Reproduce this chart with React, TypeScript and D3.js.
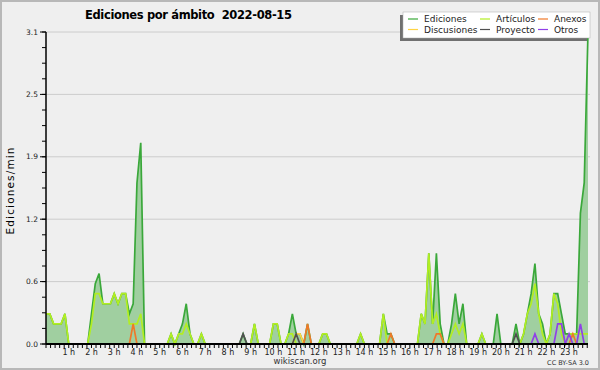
import { useEffect, useRef } from 'react';
import * as d3 from 'd3';

// ediciones por franja de 10 minutos (144 franjas, 00:00 .. 23:50); /10 => ediciones/min
const ediciones = [
  3, 3, 2, 2, 2, 3, 0, 0, 0, 0, 0, 0,
  3, 6, 7, 4, 4, 4, 5, 4, 5, 5, 3, 4,
  16, 20, 0, 0, 0, 0, 0, 0, 0, 1, 0, 1,
  2, 4, 1, 0, 0, 1, 0, 0, 0, 0, 0, 0,
  0, 0, 0, 0, 1, 0, 0, 2, 0, 0, 0, 0,
  2, 2, 0, 0, 1, 3, 1, 1, 0, 2, 0, 0,
  0, 1, 1, 0, 0, 0, 0, 0, 0, 0, 0, 1,
  0, 0, 0, 0, 0, 3, 1, 1, 0, 0, 0, 0,
  0, 0, 0, 3, 2, 9, 2, 9, 2, 0, 0, 2,
  5, 2, 4, 0, 0, 0, 0, 1, 0, 0, 0, 3,
  0, 0, 0, 0, 2, 0, 1, 3, 5, 8, 3, 2,
  0, 1, 5, 5, 3, 1, 1, 1, 1, 13, 16, 31,
];

const articulos = [
  3, 3, 2, 2, 2, 3, 0, 0, 0, 0, 0, 0,
  2, 5, 5, 4, 4, 4, 5, 4, 5, 5, 2, 2,
  2, 3, 0, 0, 0, 0, 0, 0, 0, 1, 0, 1,
  1, 2, 1, 0, 0, 1, 0, 0, 0, 0, 0, 0,
  0, 0, 0, 0, 0, 0, 0, 2, 0, 0, 0, 0,
  2, 2, 0, 0, 1, 1, 0, 0, 0, 0, 0, 0,
  0, 1, 1, 0, 0, 0, 0, 0, 0, 0, 0, 1,
  0, 0, 0, 0, 0, 3, 0, 0, 0, 0, 0, 0,
  0, 0, 0, 3, 2, 9, 2, 3, 1, 0, 0, 1,
  2, 1, 2, 0, 0, 0, 0, 1, 0, 0, 0, 0,
  0, 0, 0, 0, 0, 0, 1, 3, 4, 6, 3, 1,
  0, 1, 5, 4, 1, 0, 1, 1, 1, 1, 1, 1,
];

// series casi vacías: [franja, valor]
const anexos: [number, number][] = [[23, 2], [69, 2], [91, 1], [103, 1], [104, 1], [139, 1]];
const discusiones: [number, number][] = [[66, 1], [67, 1]];
const proyecto: [number, number][] = [[52, 1], [66, 1], [124, 1]];
const otros: [number, number][] = [[129, 1], [135, 2], [136, 2], [138, 1], [141, 2]];

const hourLabels = [
  '1 h', '2 h', '3 h', '4 h', '5 h', '6 h', '7 h', '8 h', '9 h', '10 h', '11 h', '12 h',
  '13 h', '14 h', '15 h', '16 h', '17 h', '18 h', '19 h', '20 h', '21 h', '22 h', '23 h',
];

const legendNames = ['Ediciones', 'Artículos', 'Anexos', 'Discusiones', 'Proyecto', 'Otros'];
const legendColors = ['#3aa83a', '#b2ee22', '#f07828', '#ffd444', '#505050', '#9040e8'];

const N = 144;
const yMax = 3.1;

const fromPeaks = (peaks: [number, number][]) => {
  const s = new Array(N).fill(0);
  peaks.forEach(([i, v]) => { s[i] = v; });
  return s as number[];
};

const App = () => {
  const ref = useRef<SVGSVGElement>(null);

  useEffect(() => {
    if (!ref.current) return;
    const svg = d3.select(ref.current);
    svg.selectAll('*').remove();

    const width = 600;
    const height = 370;
    const left = 46, right = 588, top = 32, bottom = 344;

    const x = d3.scaleLinear().domain([0, N - 1]).range([left, right]);
    const y = d3.scaleLinear().domain([0, yMax]).range([bottom, top]);

    svg.append('rect').attr('width', width).attr('height', height).attr('fill', '#efefef');
    svg.append('rect')
      .attr('x', 1).attr('y', 1).attr('width', width - 2).attr('height', height - 2)
      .attr('fill', 'none').attr('stroke', '#b8b8b8').attr('stroke-width', 2);

    // grid
    const major = d3.range(6).map(k => (yMax * k) / 5);
    const minor = d3.range(21).map(k => (yMax * k) / 20);
    svg.append('g').selectAll('line')
      .data(major.slice(1))
      .join('line')
      .attr('x1', left).attr('x2', right + 2)
      .attr('y1', d => y(d)).attr('y2', d => y(d))
      .attr('stroke', '#cccccc').attr('stroke-width', 1);

    const series = [
      ediciones,
      articulos,
      fromPeaks(anexos),
      fromPeaks(discusiones),
      fromPeaks(proyecto),
      fromPeaks(otros),
    ];

    const area = d3.area<number>()
      .x((_, i) => x(i))
      .y0(y(0))
      .y1(d => y(d / 10));
    const line = d3.line<number>()
      .x((_, i) => x(i))
      .y(d => y(d / 10));

    svg.append('path')
      .attr('d', area(ediciones))
      .attr('fill', '#a0cfa0');

    const drawOrder = [0, 1, 3, 2, 4, 5];
    drawOrder.forEach(k => {
      svg.append('path')
        .attr('d', line(series[k]))
        .attr('fill', 'none')
        .attr('stroke', legendColors[k])
        .attr('stroke-width', 1.7)
        .attr('stroke-linejoin', 'miter');
    });

    // y axis
    const ay = svg.append('g');
    ay.append('line')
      .attr('x1', left).attr('x2', left).attr('y1', top).attr('y2', bottom)
      .attr('stroke', '#000').attr('stroke-width', 1.5);
    ay.selectAll('line.minor')
      .data(minor)
      .join('line')
      .attr('class', 'minor')
      .attr('x1', left - 4).attr('x2', left)
      .attr('y1', d => y(d)).attr('y2', d => y(d))
      .attr('stroke', '#000').attr('stroke-width', 1);
    ay.selectAll('line.major')
      .data(major)
      .join('line')
      .attr('class', 'major')
      .attr('x1', left - 6).attr('x2', left)
      .attr('y1', d => y(d)).attr('y2', d => y(d))
      .attr('stroke', '#000').attr('stroke-width', 1);
    ay.selectAll('text')
      .data(major)
      .join('text')
      .attr('x', left - 8)
      .attr('y', d => y(d))
      .attr('dy', '0.35em')
      .attr('text-anchor', 'end')
      .style('font-size', '7.5px')
      .attr('fill', '#222')
      .text(d => d3.format('.1f')(d));

    // x axis
    const ax = svg.append('g');
    const xTicks = d3.range(0, N - 1 + 0.01, 1.2);
    ax.selectAll('line.tick')
      .data(xTicks)
      .join('line')
      .attr('class', 'tick')
      .attr('x1', d => x(d)).attr('x2', d => x(d))
      .attr('y1', bottom).attr('y2', bottom + 4)
      .attr('stroke', '#000').attr('stroke-width', 1);
    ax.append('line')
      .attr('x1', left).attr('x2', right).attr('y1', bottom).attr('y2', bottom)
      .attr('stroke', '#000').attr('stroke-width', 2);
    ax.selectAll('text')
      .data(hourLabels)
      .join('text')
      .attr('x', (_, i) => x((i + 1) * 6))
      .attr('y', bottom + 11)
      .attr('text-anchor', 'middle')
      .style('font-size', '8px')
      .attr('fill', '#222')
      .text(d => d);

    // y label
    svg.append('text')
      .attr('transform', `translate(14,${(top + bottom) / 2 + 3}) rotate(-90)`)
      .attr('text-anchor', 'middle')
      .style('font-size', '10.5px')
      .attr('textLength', 87)
      .text('Ediciones/min');

    // title
    svg.append('text')
      .attr('x', 85).attr('y', 18.5)
      .style('font-size', '11.5px')
      .style('font-weight', 'bold')
      .attr('textLength', 207)
      .attr('xml:space', 'preserve')
      .style('white-space', 'pre')
      .text('Ediciones por ámbito  2022-08-15');

    // legend
    const lg = svg.append('g');
    lg.append('rect').attr('x', 400).attr('y', 15).attr('width', 187).attr('height', 26).attr('fill', '#707070');
    lg.append('rect').attr('x', 403).attr('y', 12).attr('width', 187).attr('height', 26)
      .attr('fill', '#fff').attr('stroke', '#aaa').attr('stroke-width', 0.5);
    const colX = [408, 480, 538];
    const rowY = [19, 29.5];
    legendNames.forEach((name, k) => {
      const cx = colX[k % 3];
      const cy = rowY[Math.floor(k / 3)];
      lg.append('line')
        .attr('x1', cx).attr('x2', cx + 10).attr('y1', cy).attr('y2', cy)
        .attr('stroke', legendColors[k]).attr('stroke-width', 1.2);
      lg.append('text')
        .attr('x', cx + 16).attr('y', cy + 3.3)
        .style('font-size', '9px')
        .attr('fill', '#222')
        .text(name);
    });

    // footer
    svg.append('text')
      .attr('x', 300).attr('y', 364)
      .attr('text-anchor', 'middle')
      .style('font-size', '8.5px')
      .attr('fill', '#333')
      .text('wikiscan.org');
    svg.append('text')
      .attr('x', 589).attr('y', 365)
      .attr('text-anchor', 'end')
      .style('font-size', '6.5px')
      .attr('fill', '#333')
      .text('CC BY-SA 3.0');
  }, []);

  return (
    <svg
      ref={ref}
      width={600}
      height={370}
      style={{ position: 'absolute', left: 0, top: 0, fontFamily: 'DejaVu Sans' }}
    />
  );
};

export default App;
